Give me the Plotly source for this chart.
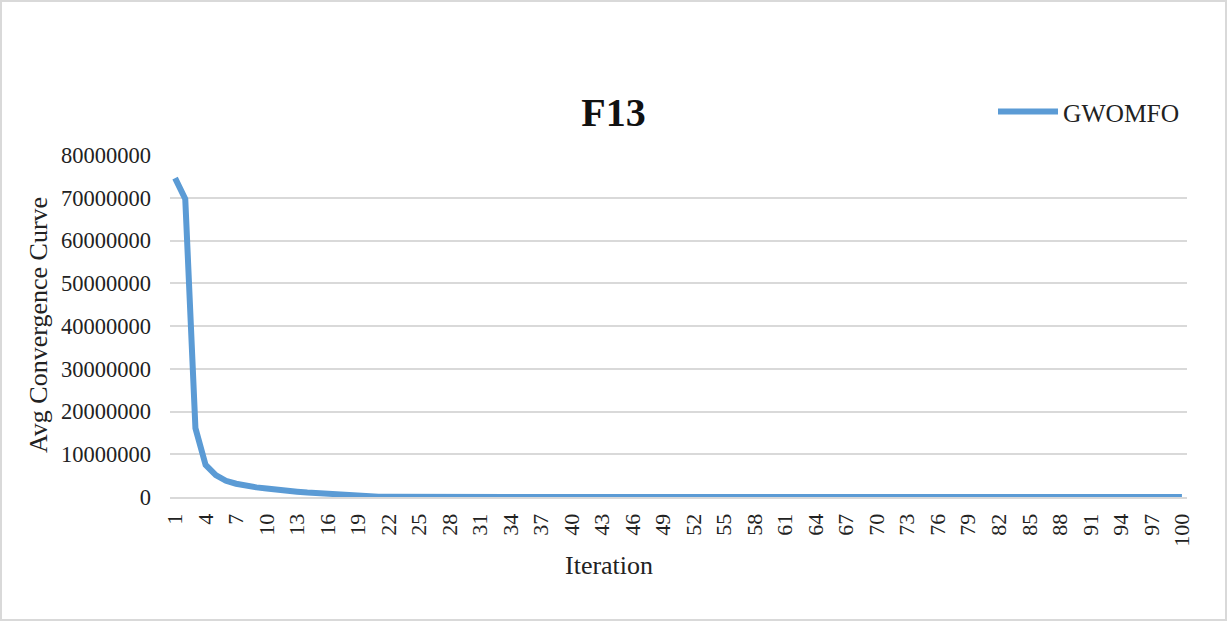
import plotly.graph_objects as go

iterations = [str(i) for i in range(1, 101)]
gwomfo = [74600000, 69700000, 16100000, 7500000, 5100000, 3800000, 3100000, 2600000, 2250000, 2000000,
          1650000, 1450000, 1250000, 1050000, 880000, 650000, 420000, 300000, 200000, 130000,
          80000, 50000, 30000, 20000, 12000, 8000, 5000, 3000, 2000, 1500] + [1000] * 70
tick_labels = [str(i) for i in range(1, 101, 3)]

serif = "Liberation Serif, Times New Roman, serif"

fig = go.Figure()
fig.add_trace(go.Scatter(x=iterations, y=gwomfo, mode="lines", name="GWOMFO",
                         line=dict(color="#5b9bd5", width=6)))

W, H = 1227, 621
ml, mr, mt, mb = 170, 40, 155, 124
pw, ph = W - ml - mr, H - mt - mb

def px_x(x):
    return (x - ml) / pw

def px_y(y):
    return (H - mb - y) / ph

fig.update_layout(
    width=W, height=H,
    margin=dict(l=ml, r=mr, t=mt, b=mb),
    paper_bgcolor="white", plot_bgcolor="white",
    font=dict(family=serif, color="#222222", size=22),
    title=dict(text="<b>F13</b>", x=0.5, xref="container", xanchor="center",
               y=1 - 112 / H, yanchor="middle", font=dict(size=40, color="#111111")),
    legend=dict(x=px_x(993), y=px_y(112), xanchor="left", yanchor="middle",
                font=dict(size=25.5), bgcolor="rgba(0,0,0,0)", itemwidth=60),
    showlegend=True,
    shapes=[dict(type="rect", xref="paper", yref="paper",
                 x0=px_x(1), x1=px_x(W - 1), y0=px_y(H - 1), y1=px_y(1),
                 line=dict(color="#d9d9d9", width=2), layer="below")],
    annotations=[
        dict(text="Iteration", xref="paper", yref="paper", x=px_x(609), y=px_y(565),
             xanchor="center", yanchor="middle", showarrow=False, font=dict(size=26)),
        dict(text="Avg Convergence Curve", xref="paper", yref="paper", x=px_x(38), y=px_y(325),
             xanchor="center", yanchor="middle", textangle=-90, showarrow=False,
             font=dict(size=26)),
    ],
)
fig.update_xaxes(type="category", range=[-0.5, 99.5], tickmode="array",
                 tickvals=tick_labels, ticktext=tick_labels, tickangle=-90,
                 showgrid=False, showline=True, linecolor="#d9d9d9", linewidth=2,
                 ticklabelstandoff=6, tickfont=dict(size=22))
fig.update_yaxes(range=[0, 80000000], dtick=10000000, tickformat="d",
                 showgrid=True, gridcolor="#d9d9d9", gridwidth=2, zeroline=False,
                 ticklabelstandoff=18, tickfont=dict(size=22.5))

fig.write_html("out.html", config={"displayModeBar": False},
               post_script="document.body.style.margin='0';")
